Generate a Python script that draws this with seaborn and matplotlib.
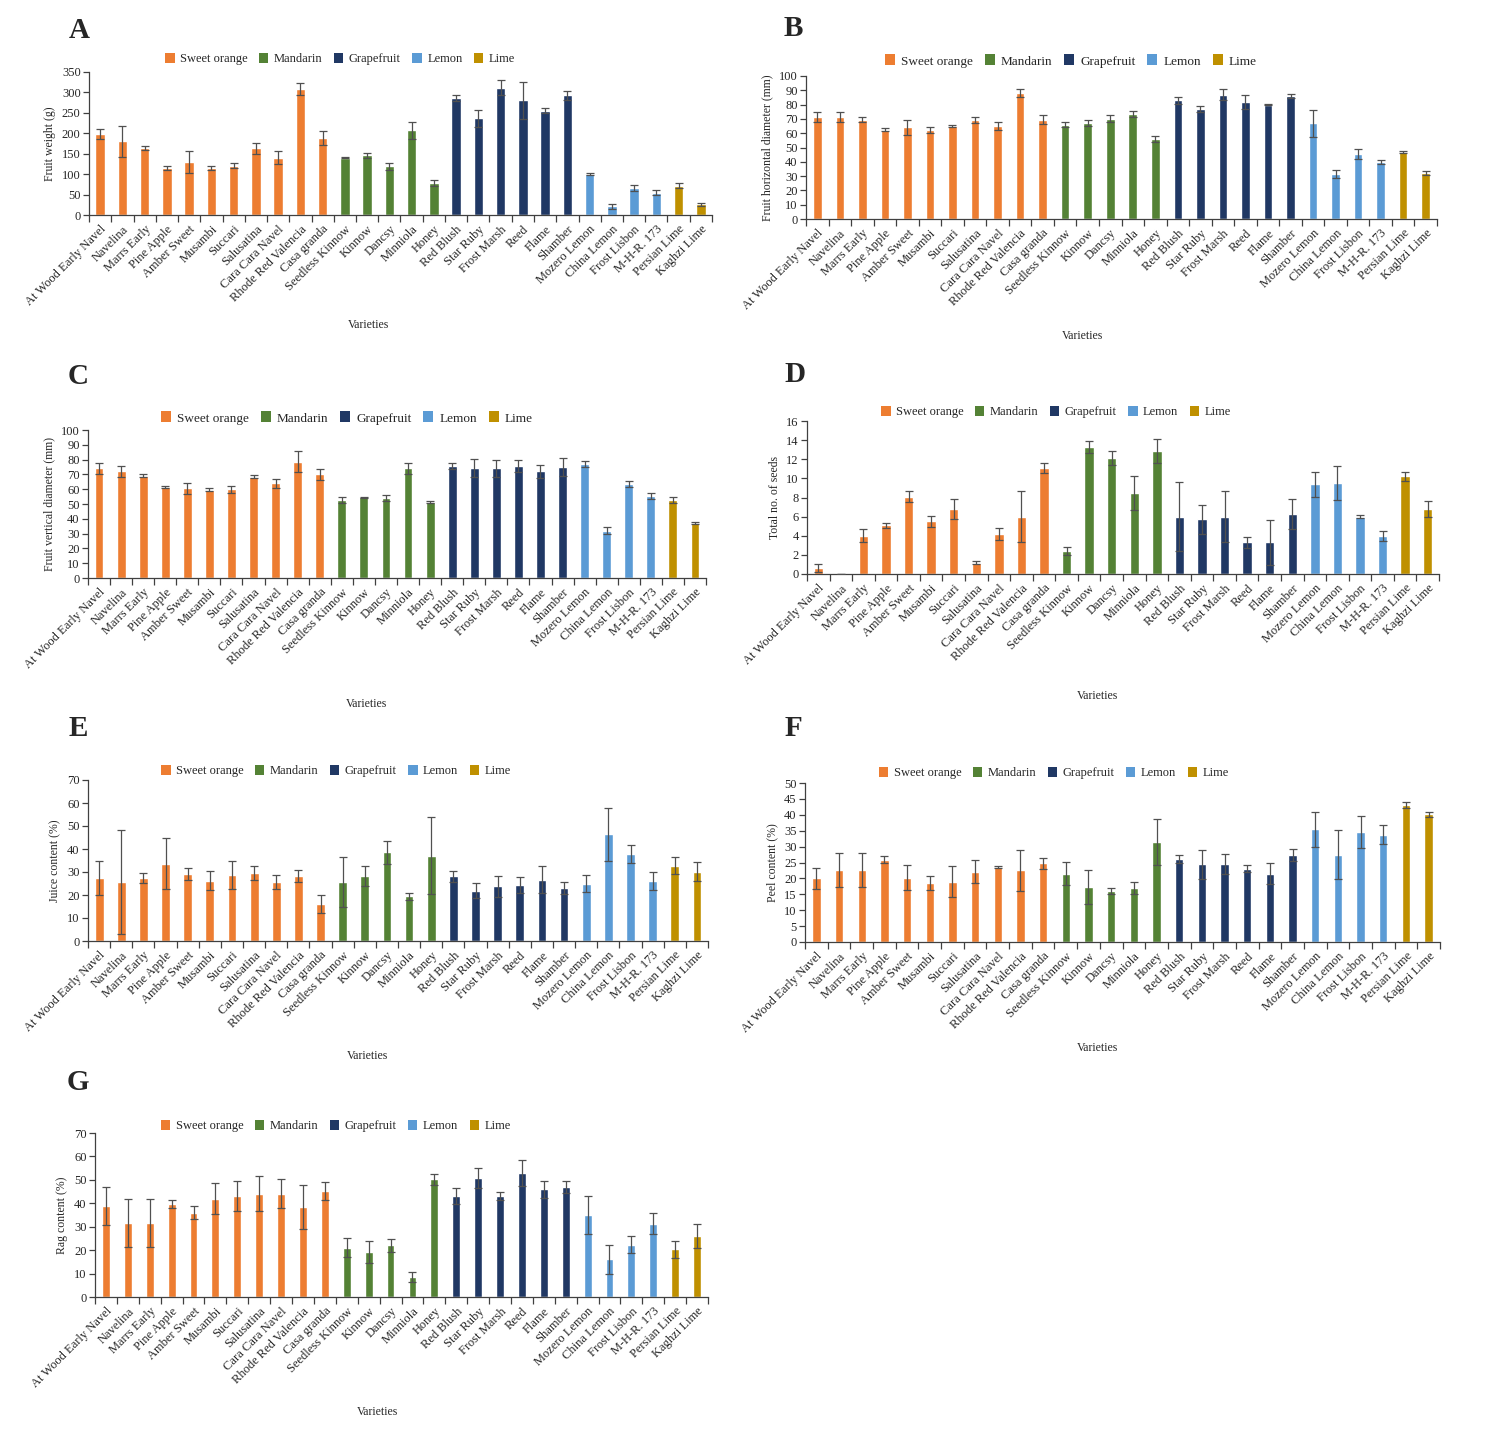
import numpy as np
import pandas as pd
import matplotlib
matplotlib.use("Agg")
import matplotlib.pyplot as plt
from matplotlib.patches import Patch
from matplotlib.ticker import FixedLocator, MultipleLocator
import seaborn as sns

# ---------------- data ----------------
varieties = ["At Wood Early Navel", "Navelina", "Marrs Early", "Pine Apple", "Amber Sweet",
             "Musambi", "Succari", "Salusatina", "Cara Cara Navel", "Rhode Red Valencia",
             "Casa granda", "Seedless Kinnow", "Kinnow", "Dancsy", "Minniola", "Honey",
             "Red Blush", "Star Ruby", "Frost Marsh", "Reed", "Flame", "Shamber",
             "Mozero Lemon", "China Lemon", "Frost Lisbon", "M-H-R. 173",
             "Persian Lime", "Kaghzi Lime"]
groups = (["Sweet orange"] * 11 + ["Mandarin"] * 5 + ["Grapefruit"] * 6
          + ["Lemon"] * 4 + ["Lime"] * 2)
group_names = ["Sweet orange", "Mandarin", "Grapefruit", "Lemon", "Lime"]
group_colors = ["#ED7D31", "#548235", "#203864", "#5B9BD5", "#BF9000"]

weight = [198, 180, 165, 115, 130, 115, 121, 163, 140, 308, 188,
          140, 146, 119, 207, 78,
          286, 237, 312, 281, 255, 293,
          101, 21, 66, 55,
          72, 26]
weight_err = [12, 38, 5, 6, 26, 5, 6, 13, 16, 14, 17,
              1, 6, 8, 20, 7,
              8, 21, 19, 45, 6, 11,
              2, 6, 7, 6,
              6, 3]

hdia = [71.5, 71, 69.5, 62.5, 64, 62, 65, 69, 65, 88, 69.5,
        66, 67, 70, 73.5, 56,
        83, 77, 87, 82, 80, 86,
        67, 31.5, 45.5, 40,
        47, 32]
hdia_err = [3.5, 3.5, 1.5, 1, 5, 2, 1, 2, 3, 3, 3,
            1.5, 2, 2.5, 2, 2,
            2.5, 2, 4, 5, 0.5, 1.5,
            9.5, 2.5, 3.5, 1.5,
            0.5, 1.5]

vdia = [74, 72, 69, 61.5, 60.5, 59.5, 60, 68.5, 64, 78.5, 70,
        53, 54.5, 54, 74, 51.5,
        75.5, 74.5, 74, 75.7, 72, 75,
        77, 32, 63.5, 55.7,
        53, 37]
vdia_err = [4, 4, 1, 0.5, 3.5, 1, 2.5, 1, 3, 7, 3.5,
            2, 0.5, 2, 4, 0.5,
            2, 6, 6, 4, 4.5, 6,
            2, 2.5, 2, 2,
            2, 0.8]

seeds = [0.6, 0.05, 4.0, 5.1, 8.1, 5.5, 6.8, 1.2, 4.2, 6.0, 11.1,
         2.4, 13.3, 12.15, 8.5, 12.9,
         6.0, 5.7, 6.0, 3.3, 3.3, 6.3,
         9.4, 9.5, 6.0, 4.0,
         10.2, 6.8]
seeds_err = [0.4, 0, 0.7, 0.25, 0.6, 0.6, 1.05, 0.2, 0.6, 2.65, 0.55,
             0.4, 0.65, 0.75, 1.8, 1.25,
             3.6, 1.5, 2.65, 0.6, 2.35, 1.55,
             1.3, 1.75, 0.15, 0.5,
             0.5, 0.85]

juice = [27.4, 25.8, 27.4, 33.6, 29.1, 26.3, 28.6, 29.6, 25.5, 28.1, 16.2,
         25.7, 28.1, 38.5, 19.5, 37.1,
         28.1, 21.9, 23.8, 24.4, 26.7, 23.1,
         25, 46.5, 38, 26,
         32.8, 30.2]
juice_err = [7.6, 22.6, 2.2, 11, 2.6, 4.3, 6, 2.9, 3.1, 2.6, 4,
             11, 4.3, 5, 1.5, 16.7,
             2.5, 3.3, 4.6, 3.4, 5.8, 2.6,
             3.9, 11.5, 3.9, 3.9,
             3.7, 4]

peel = [20, 22.6, 22.6, 25.9, 20.2, 18.6, 18.9, 22.1, 23.5, 22.5, 24.7,
        21.5, 17.3, 16, 17, 31.4,
        26.2, 24.4, 24.6, 23.1, 21.4, 27.5,
        35.4, 27.5, 34.5, 33.8,
        43, 40.1]
peel_err = [3.4, 5.4, 5.4, 1.1, 4, 2.1, 4.9, 3.6, 0.3, 6.5, 1.8,
            3.6, 5.2, 1, 1.9, 7.3,
            1.3, 4.5, 3.2, 1.1, 3.3, 1.9,
            5.4, 7.6, 5, 2.9,
            0.9, 0.8]

rag = [38.8, 31.7, 31.7, 39.5, 36, 42, 43, 44.1, 44.1, 38.4, 45.2,
       21, 19.2, 22, 8.5, 50.2,
       43.1, 50.8, 43.1, 52.9, 45.9, 46.9,
       35.1, 16.1, 22.3, 31.3,
       20.3, 25.9]
rag_err = [8.1, 10.3, 10.3, 1.7, 2.8, 6.7, 6.5, 7.4, 6.1, 9.3, 3.9,
           4.1, 4.5, 2.6, 2, 2.4,
           3.4, 4.2, 1.7, 5.7, 3.6, 2.6,
           8, 6.2, 3.7, 4.5,
           3.6, 5.1]

panel_letters = ["A", "B", "C", "D", "E", "F", "G"]
y_labels = ["Fruit weight (g)", "Fruit horizontal diameter (mm)",
            "Fruit vertical diameter (mm)", "Total no. of seeds",
            "Juice content (%)", "Peel content (%)", "Rag content (%)"]
x_label = "Varieties"

# ---------------- style ----------------
sns.set_style("ticks")
plt.rcParams["font.family"] = ["Liberation Serif", "DejaVu Serif"]

W, H = 1490, 1438
fig = plt.figure(figsize=(W / 100, H / 100), dpi=100)

# pixel boxes: left, right, top, bottom
boxes = [(89, 712, 72, 215), (806, 1437, 76, 219),
         (88, 706, 430, 578), (807, 1439, 421, 574),
         (88, 708, 780, 941), (805, 1440, 783, 942),
         (95, 708, 1133, 1297)]
ymax = [350, 100, 100, 16, 70, 50, 70]
ystep = [50, 10, 10, 2, 10, 5, 10]
letters_pos = [(79, 30), (793, 29), (78, 376), (795, 375), (78, 729), (793, 729), (78, 1083)]
legend_pos = [(0.403, 59), (0.42, 61), (0.419, 418), (0.394, 412),
              (0.40, 771), (0.392, 773), (0.393, 1126)]
xlab_pos = [(368, 325), (1082, 336), (366, 704), (1097, 696),
            (367, 1056), (1097, 1048), (377, 1412)]
widths = [0.42, 0.38, 0.4, 0.42, 0.4, 0.37, 0.36]
legend_fs = [9, 9.5, 9.5, 9, 9, 9, 9]

series = [(weight, weight_err), (hdia, hdia_err), (vdia, vdia_err), (seeds, seeds_err),
          (juice, juice_err), (peel, peel_err), (rag, rag_err)]

palette = dict(zip(group_names, group_colors))
spine_col = "#404040"

for i, (vals, errs) in enumerate(series):
    l, r, t, b = boxes[i]
    ax = fig.add_axes([l / W, 1 - b / H, (r - l) / W, (b - t) / H])
    df = pd.DataFrame({"Variety": varieties, "Value": vals, "Group": groups})
    sns.barplot(data=df, x="Variety", y="Value", hue="Group", hue_order=group_names,
                order=varieties, palette=palette, dodge=False, width=widths[i],
                errorbar=None, saturation=1, legend=False, ax=ax)
    ax.errorbar(np.arange(len(varieties)), vals, yerr=errs, fmt="none",
                ecolor="#505050", elinewidth=0.9, capsize=3, capthick=0.9, zorder=3)
    ax.set_xlim(-0.5, len(varieties) - 0.5)
    ax.set_ylim(0, ymax[i])
    ax.yaxis.set_major_locator(MultipleLocator(ystep[i]))
    ax.set_xlabel("")
    ax.set_ylabel(y_labels[i], fontsize=8.5, labelpad=4)
    ax.set_xticks(np.arange(len(varieties)))
    ax.set_xticklabels(varieties, rotation=45, ha="right", rotation_mode="anchor",
                       fontsize=9)
    ax.xaxis.set_minor_locator(FixedLocator(np.arange(-0.5, len(varieties), 1.0)))
    ax.tick_params(axis="x", which="major", length=0, pad=6)
    ax.tick_params(axis="x", which="minor", length=5, width=0.9, color=spine_col,
                   direction="out")
    ax.tick_params(axis="y", which="major", length=4, width=0.9, color=spine_col,
                   labelsize=9, pad=2)
    for s in ["top", "right"]:
        ax.spines[s].set_visible(False)
    for s in ["left", "bottom"]:
        ax.spines[s].set_color(spine_col)
        ax.spines[s].set_linewidth(0.9)

    handles = [Patch(facecolor=c, edgecolor="none", label=g)
               for g, c in zip(group_names, group_colors)]
    lx, ly = legend_pos[i]
    ax.legend(handles=handles, ncol=5, frameon=False, loc="center",
              bbox_to_anchor=(lx, 1 + (t - ly) / (b - t)), fontsize=legend_fs[i],
              handlelength=0.75, handleheight=0.9, handletextpad=0.45,
              columnspacing=0.9, borderaxespad=0)

    xx, xy = xlab_pos[i]
    ax.text((xx - l) / (r - l), -(xy - b) / (b - t), x_label, transform=ax.transAxes,
            ha="center", va="center", fontsize=8.5)

    px, py = letters_pos[i]
    fig.text(px / W, 1 - py / H, panel_letters[i], ha="center", va="center",
             fontsize=21, fontweight="bold")

fig.savefig("out.png", dpi=100, facecolor="white")
